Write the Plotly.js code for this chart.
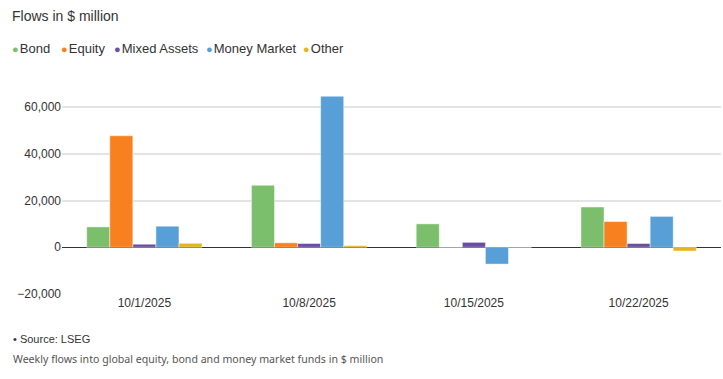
<!DOCTYPE html>
<html>
<head>
<meta charset="utf-8">
<script src="https://cdn.plot.ly/plotly-3.0.1.min.js"></script>
<style>html,body{margin:0;padding:0;background:#fff;}#chart{width:723px;height:379px;}</style>
</head>
<body>
<div id="chart"></div>
<script>
const categories = ["10/1/2025", "10/8/2025", "10/15/2025", "10/22/2025"];
const seriesNames = ["Bond", "Equity", "Mixed Assets", "Money Market", "Other"];
const bond = [8700, 26500, 10000, 17200];
const equity = [47700, 1900, 0, 11000];
const mixedAssets = [1300, 1600, 2100, 1600];
const moneyMarket = [9000, 64600, -7200, 13200];
const other = [1700, 700, 0, -1600];
const yTicks = [-20000, 0, 20000, 40000, 60000];
const colors = ["#7BBE6B", "#F8801F", "#6A4EA2", "#579FD6", "#E6B421"];
const values = [bond, equity, mixedAssets, moneyMarket, other];
const legendX = [10, 59, 112, 204, 301];

const traces = values.map((v, i) => ({
  type: "bar", x: categories, y: v, name: seriesNames[i], showlegend: false,
  marker: {color: colors[i], line: {color: "rgba(255,255,255,0.45)", width: 1}},
  hoverinfo: "x+y+name"
}));

const annotations = seriesNames.map((n, i) => ({
  text: "<span style='font-size:11px;color:" + colors[i] + "'>●</span><span style='font-size:4px'> </span>" + n,
  xref: "paper", yref: "paper", x: (legendX[i] - 62) / 659, y: (294 - 48) / 201,
  xanchor: "left", yanchor: "middle", showarrow: false, font: {size: 13, color: "#333"}
}));
annotations.push(
  {text: "• Source: LSEG", xref: "paper", yref: "paper", x: (11 - 62) / 659, y: (294 - 339) / 201, xanchor: "left", yanchor: "middle",
    showarrow: false, font: {size: 11, color: "#333"}},
  {text: "Weekly flows into global equity, bond and money market funds in $ million", xref: "paper", yref: "paper",
    x: (11 - 62) / 659, y: (294 - 359) / 201, xanchor: "left", yanchor: "middle", showarrow: false,
    font: {family: "Noto Sans, sans-serif", size: 10.6, color: "#555"}}
);

const layout = {
  width: 723, height: 379,
  margin: {l: 62, r: 2, t: 93, b: 85},
  paper_bgcolor: "#fff", plot_bgcolor: "#fff",
  font: {family: "Liberation Sans, Arial, sans-serif", size: 12, color: "#333"},
  barmode: "group", bargap: 0.3, bargroupgap: 0,
  title: {text: "Flows in $ million", x: 12 / 723, xref: "container", xanchor: "left", y: 1 - 16 / 379, yref: "container", yanchor: "middle",
    font: {size: 14, color: "#333"}},
  showlegend: false,
  xaxis: {type: "category", showgrid: false, zeroline: false, showline: false, ticks: "",
    tickfont: {size: 12, color: "#333"}, fixedrange: true},
  yaxis: {range: [-20000, 66000], tickvals: yTicks, tickformat: ",", showgrid: true,
    gridcolor: "#e3e3e3", gridwidth: 1.5, zeroline: true, zerolinecolor: "#333", zerolinewidth: 1,
    tickfont: {size: 12, color: "#333"}, ticks: "", ticklen: 0, fixedrange: true},
  annotations: annotations
};
Plotly.newPlot("chart", traces, layout, {displayModeBar: false});
</script>
</body>
</html>
